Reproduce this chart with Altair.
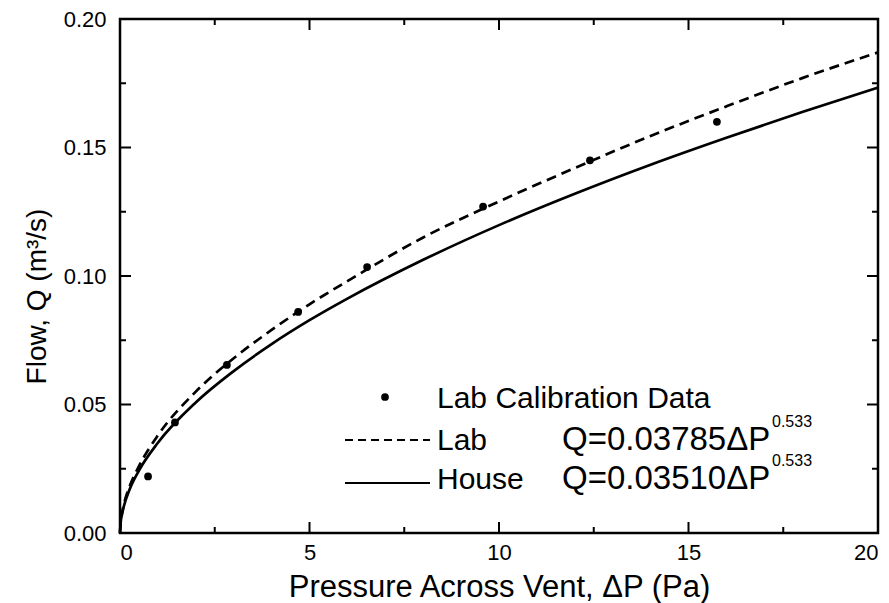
import altair as alt
import pandas as pd

# ---- data ----
lab_pts_x = [0.74, 1.45, 2.82, 4.70, 6.52, 9.58, 12.40, 15.75]
lab_pts_y = [0.022, 0.043, 0.0654, 0.086, 0.1035, 0.127, 0.145, 0.160]

curve_x = [0, 0.02, 0.05, 0.1, 0.25, 0.5, 1, 2, 3, 4, 5, 6, 8, 10, 12, 14, 16, 18, 20]
lab_curve_y = [0, 0.0047, 0.0075, 0.011, 0.018, 0.026, 0.038, 0.055, 0.068, 0.079,
               0.089, 0.098, 0.115, 0.129, 0.142, 0.1545, 0.166, 0.177, 0.187]
house_curve_y = [0, 0.0044, 0.0071, 0.0103, 0.0168, 0.0243, 0.0351, 0.0508, 0.063, 0.0735,
                 0.0828, 0.0912, 0.1063, 0.1198, 0.132, 0.1433, 0.1538, 0.1638, 0.1733]

x_major = [0, 5, 10, 15, 20]
x_minor = [2.5, 7.5, 12.5, 17.5]
y_major = [0.0, 0.05, 0.10, 0.15, 0.20]
y_minor = [0.025, 0.075, 0.125, 0.175]

W, H = 758, 514
FONT = "Liberation Sans"
WEIGHT = "normal"

xs = alt.Scale(domain=[0, 20], nice=False, zero=False)
ys = alt.Scale(domain=[0, 0.2], nice=False, zero=False)

curves = pd.DataFrame({
    "x": curve_x * 2,
    "y": lab_curve_y + house_curve_y,
    "series": ["Lab"] * len(curve_x) + ["House"] * len(curve_x),
})
pts = pd.DataFrame({"x": lab_pts_x, "y": lab_pts_y})

x_axis = alt.Axis(values=x_major, format="d", ticks=False, domain=False, grid=False,
                  labelPadding=9, labelFontSize=22, labelFont=FONT, labelFontWeight=WEIGHT,
                  labelColor="black",
                  title="Pressure Across Vent, ΔP (Pa)", titleFont=FONT, titleFontSize=31,
                  titleFontWeight=WEIGHT, titleColor="black", titleBaseline="alphabetic",
                  titleY=63)
y_axis = alt.Axis(values=y_major, format=".2f", ticks=False, domain=False, grid=False,
                  labelPadding=14, labelFontSize=22, labelFont=FONT, labelFontWeight=WEIGHT,
                  labelColor="black",
                  title="Flow, Q (m³/s)", titleFont=FONT, titleFontSize=28,
                  titleFontWeight=WEIGHT, titleColor="black", titleAngle=270,
                  titleBaseline="alphabetic", titleAlign="center", titleX=-75, titleY=277)

def X(field="x"):
    return alt.X(f"{field}:Q", scale=xs, axis=x_axis, title="Pressure Across Vent, ΔP (Pa)")

def Y(field="y"):
    return alt.Y(f"{field}:Q", scale=ys, axis=y_axis, title="Flow, Q (m³/s)")

lab_line = alt.Chart(curves).transform_filter(alt.datum.series == "Lab").mark_line(
    color="black", strokeWidth=2.7, strokeDash=[10, 6], interpolate="monotone"
).encode(x=X(), y=Y())
house_line = alt.Chart(curves).transform_filter(alt.datum.series == "House").mark_line(
    color="black", strokeWidth=2.7, interpolate="monotone"
).encode(x=X(), y=Y())
points = alt.Chart(pts).mark_circle(color="black", opacity=1, size=60).encode(x=X(), y=Y())

def xticks(vals, length):
    df = pd.DataFrame({"x": vals})
    b = alt.Chart(df).mark_rule(color="black", strokeWidth=2).encode(
        x=X(), y=alt.value(H), y2=alt.value(H - length))
    t = alt.Chart(df).mark_rule(color="black", strokeWidth=2).encode(
        x=X(), y=alt.value(0), y2=alt.value(length))
    return [b, t]

def yticks(vals, length):
    df = pd.DataFrame({"y": vals})
    l = alt.Chart(df).mark_rule(color="black", strokeWidth=2).encode(
        y=Y(), x=alt.value(0), x2=alt.value(length))
    r = alt.Chart(df).mark_rule(color="black", strokeWidth=2).encode(
        y=Y(), x=alt.value(W), x2=alt.value(W - length))
    return [l, r]

tick_layers = xticks(x_major, 11) + xticks(x_minor, 6) + yticks(y_major, 11) + yticks(y_minor, 6)

# ---- legend (drawn inside the plot) ----
one = pd.DataFrame({"k": [0]})
leg_dot = alt.Chart(one).mark_circle(color="black", opacity=1, size=60).encode(
    x=alt.value(265), y=alt.value(378))
leg_dash = alt.Chart(one).mark_rule(color="black", strokeWidth=2.2, strokeDash=[8, 5]).encode(
    x=alt.value(225), x2=alt.value(310), y=alt.value(421))
leg_solid = alt.Chart(one).mark_rule(color="black", strokeWidth=2.2).encode(
    x=alt.value(225), x2=alt.value(310), y=alt.value(464))

def txt(s, x, y, size):
    return alt.Chart(pd.DataFrame({"t": [s]})).mark_text(
        align="left", baseline="alphabetic", font=FONT, fontSize=size,
        fontWeight=WEIGHT, color="black"
    ).encode(text="t:N", x=alt.value(x), y=alt.value(y))

legend_texts = [
    txt("Lab Calibration Data", 317, 389, 30),
    txt("Lab", 317, 431, 30),
    txt("Q=0.03785ΔP", 442, 431, 33),
    txt("0.533", 652, 408, 16),
    txt("House", 317, 470, 30),
    txt("Q=0.03510ΔP", 442, 470, 33),
    txt("0.533", 652, 447, 16),
]

chart = alt.layer(
    lab_line, house_line, points, *tick_layers, leg_dot, leg_dash, leg_solid, *legend_texts
).properties(
    width=W, height=H,
    autosize=alt.AutoSizeParams(type="none"),
    padding={"left": 120, "top": 19, "right": 11, "bottom": 70},
    background="white",
).configure_view(stroke="black", strokeWidth=2.5)

chart.save("out.html", embed_options={"renderer": "svg", "actions": False})
